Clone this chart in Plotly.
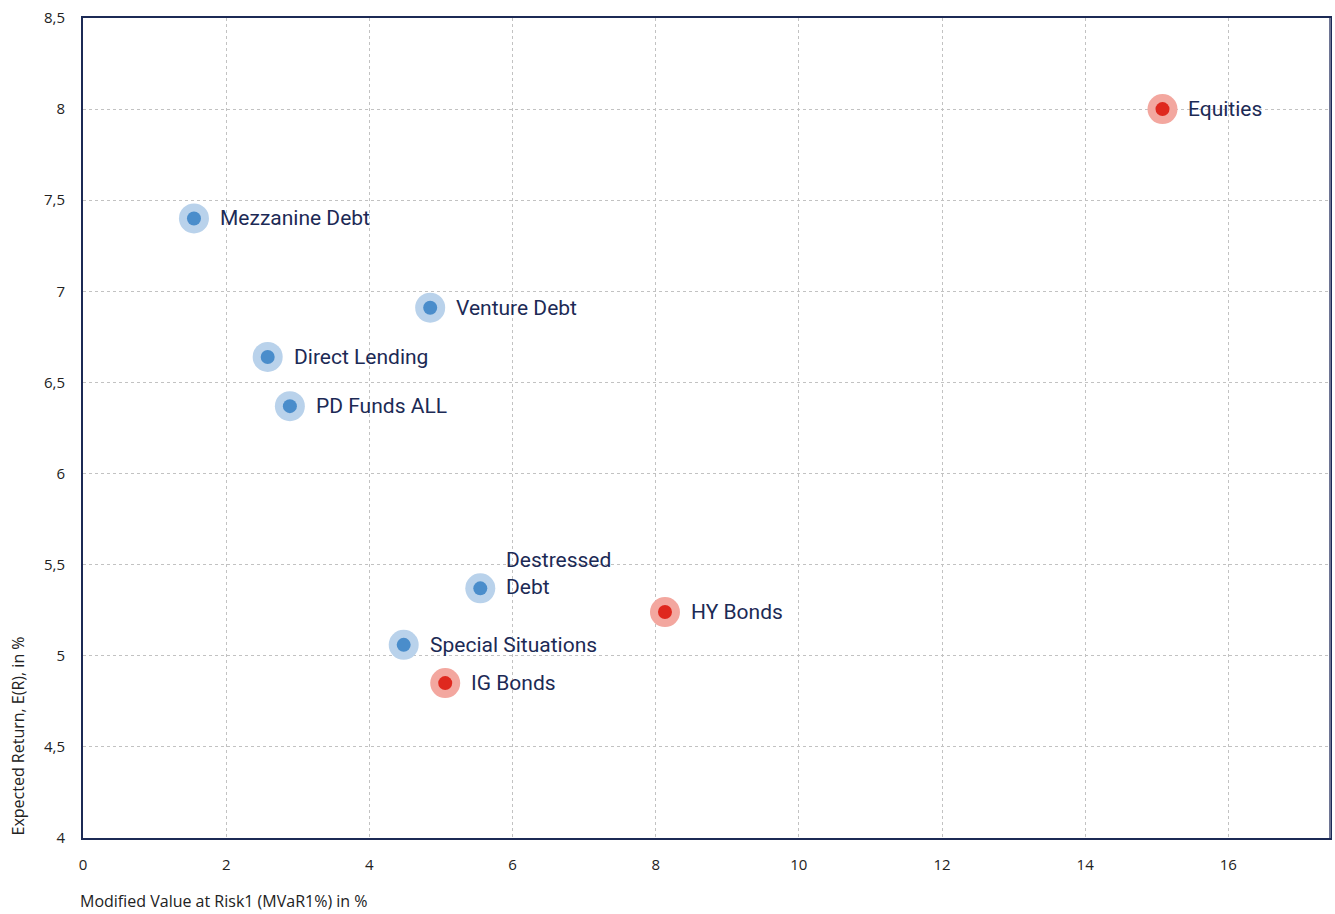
import plotly.graph_objects as go

names = ["Equities", "Mezzanine Debt", "Venture Debt", "Direct Lending", "PD Funds ALL",
         "Destressed<br>Debt", "HY Bonds", "Special Situations", "IG Bonds"]
mvar = [15.08, 1.55, 4.85, 2.58, 2.89, 5.55, 8.13, 4.48, 5.06]
ret = [8.00, 7.40, 6.91, 6.64, 6.37, 5.37, 5.24, 5.06, 4.85]
group = ["trad", "pd", "pd", "pd", "pd", "pd", "trad", "pd", "trad"]

x_ticks = [0, 2, 4, 6, 8, 10, 12, 14, 16]
y_ticks = [4, 4.5, 5, 5.5, 6, 6.5, 7, 7.5, 8, 8.5]

halo = {"pd": "#b9d2eb", "trad": "#f3a79f"}
core = {"pd": "#4a8dcb", "trad": "#df281e"}
navy = "#1c2a55"

fig = go.Figure()
for g in ["pd", "trad"]:
    xs = [x for x, gg in zip(mvar, group) if gg == g]
    ys = [y for y, gg in zip(ret, group) if gg == g]
    fig.add_trace(go.Scatter(x=xs, y=ys, mode="markers",
                             marker=dict(size=30, color=halo[g], line=dict(width=0)),
                             hoverinfo="skip", showlegend=False))
    fig.add_trace(go.Scatter(x=xs, y=ys, mode="markers",
                             marker=dict(size=14, color=core[g], line=dict(width=0)),
                             showlegend=False))

for n, x, y in zip(names, mvar, ret):
    two = "<br>" in n
    fig.add_annotation(x=x, y=y, text=n, showarrow=False, xanchor="left",
                       yanchor="bottom" if two else "middle",
                       xshift=24, yshift=-13 if two else 0, align="left",
                       font=dict(family="Roboto, sans-serif", size=21, color=navy))

fig.update_layout(
    width=1335, height=914,
    margin=dict(l=83, r=3, t=18, b=76),
    plot_bgcolor="white", paper_bgcolor="white",
    separators=", ",
    font=dict(family="Open Sans, sans-serif", size=15, color="#222"),
    xaxis=dict(range=[0, 17.42], tickvals=x_ticks, showgrid=True,
               gridcolor="#c2c2c2", griddash="dot", gridwidth=1,
               showline=True, linecolor=navy, linewidth=2, mirror=True,
               zeroline=False, ticks="", ticklabelstandoff=12),
    yaxis=dict(range=[4, 8.5], tickvals=y_ticks, showgrid=True,
               gridcolor="#c2c2c2", griddash="dot", gridwidth=1,
               showline=True, linecolor=navy, linewidth=2, mirror=True,
               zeroline=False, ticks="", ticklabelstandoff=13),
)

fig.add_shape(type="line", xref="paper", yref="paper", x0=1, x1=1, y0=0, y1=1,
              line=dict(color="#6e7594", width=2))

fig.add_annotation(xref="paper", yref="paper", x=0, y=0, xshift=-66, yshift=0,
                   text="Expected Return, E(R), in %", textangle=-90, showarrow=False,
                   xanchor="center", yanchor="bottom",
                   font=dict(family="Open Sans, sans-serif", size=16, color="#222"))
fig.add_annotation(xref="paper", yref="paper", x=0, y=0, xshift=-5, yshift=-76,
                   text="Modified Value at Risk1 (MVaR1%) in %", showarrow=False,
                   xanchor="left", yanchor="bottom",
                   font=dict(family="Open Sans, sans-serif", size=16, color="#222"))

fig.write_html("out.html")
